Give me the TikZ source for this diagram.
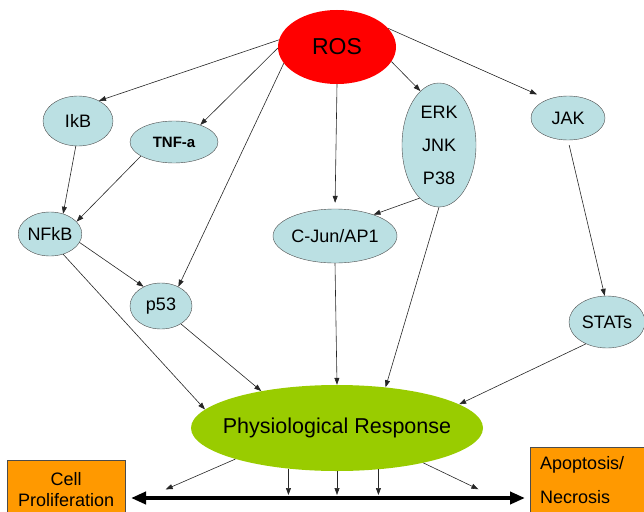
\documentclass[tikz,border=0pt]{standalone}
\usepackage{fontspec}
\setmainfont{Liberation Sans}
\usetikzlibrary{shapes.geometric,arrows.meta,positioning,calc}

\definecolor{molblue}{RGB}{187,224,227}
\definecolor{rosred}{RGB}{255,0,0}
\definecolor{respgreen}{RGB}{153,204,0}
\definecolor{outorange}{RGB}{255,153,0}

\tikzset{
  mol/.style={ellipse, draw=black!70, fill=molblue, inner sep=0pt, font=\fontsize{18}{21}\selectfont},
  outcome/.style={rectangle, draw=black!70, fill=outorange, inner sep=0pt, anchor=north west},
  arr/.style={-{Triangle[length=7pt,width=5pt]}, line width=0.6pt, black!85},
  bigarr/.style={{Triangle[length=15pt,width=12pt]}-{Triangle[length=15pt,width=12pt]}, line width=4pt}
}

\begin{document}
\begin{tikzpicture}[x=1pt,y=-1pt]
		\useasboundingbox (0,0) rectangle (644,511);
		\clip (0,0) rectangle (644,511);

		\node[ellipse, fill=rosred, inner sep=0pt, minimum width=118, minimum height=74, font=\fontsize{23}{26}\selectfont] (ros) at (337,47) {ROS};
		\node[mol, minimum width=70, minimum height=50] (ikb) at (78,121) {IkB};
		\node[mol, minimum width=88, minimum height=42, font=\fontsize{15}{18}\selectfont\bfseries] (tnf) at (174,142) {TNF-a};
		\node[mol, minimum width=62, minimum height=44] (nfkb) at (50,234) {NFkB};
		\node[mol, minimum width=62, minimum height=46] (p53) at (161,306) {p53};
		\node[mol, minimum width=124, minimum height=54] (cjun) at (335,236) {C-Jun/AP1};
		\node[mol, minimum width=74, minimum height=124, align=center, font=\fontsize{18}{33}\selectfont] (mapk) at (439,145) {ERK\\JNK\\P38};
		\node[mol, minimum width=74, minimum height=44] (jak) at (568,118) {JAK};
		\node[mol, minimum width=76, minimum height=52] (stat) at (607,322) {STATs};
		\node[ellipse, fill=respgreen, inner xsep=-11pt, inner ysep=0pt, minimum width=292, minimum height=86, font=\fontsize{21.5}{24}\selectfont] (phys) at (337,428) {Physiological Response};

		\node[outcome, minimum width=118, minimum height=58, align=center, font=\fontsize{18}{21}\selectfont] (prolif) at (7,460) {Cell\\Proliferation};
		\node[outcome, minimum width=120, minimum height=66, text width=100, inner xsep=10pt, align=left, font=\fontsize{18}{34}\selectfont] (apop) at (530,447) {Apoptosis/\\Necrosis};

		\coordinate (bl) at (131,498);
		\coordinate (br) at (525,498);

		% from ROS
		\draw[arr] (ros.173) -- (ikb.44);
		\draw[arr] (ros.181) -- (tnf.33);
		\draw[arr] (ros.197) -- (p53.48);
		\draw[arr, shorten >=6pt] (ros.south) -- (cjun.north);
		\draw[arr] (ros.345) -- (mapk.109);
		\draw[arr, shorten >=12pt] (ros.20) -- (jak.137);

		% signalling
		\draw[arr] (ikb.265) -- (nfkb.57);
		\draw[arr] (tnf.203) -- (nfkb.25);
		\draw[arr] (nfkb.344) -- (p53.132);
		\draw[arr] (mapk.250) -- (cjun.29);
		\draw[arr, shorten <=5pt] (jak.south) -- (stat.95);

		% to the response
		\draw[arr] (nfkb.303) -- (phys.172);
		\draw[arr] (p53.318) -- (phys.154);
		\draw[arr] (cjun.south) -- (phys.north);
		\draw[arr] (mapk.south) -- (phys.40);
		\draw[arr] (stat.226) -- (phys.11);

		% outcome axis
		\draw[bigarr] (bl) -- (br);
		\draw[arr, shorten >=4pt] (phys.197) -- ($(bl)+(31,-7)$);
		\draw[arr, shorten >=3pt] (phys.220) -- (phys.220 |- bl);
		\draw[arr, shorten >=3pt] (phys.south) -- (phys.south |- bl);
		\draw[arr, shorten >=3pt] (phys.315) -- (phys.315 |- bl);
		\draw[arr, shorten >=4pt] (phys.338) -- ($(br)+(-43,-7)$);
\end{tikzpicture}
\end{document}
